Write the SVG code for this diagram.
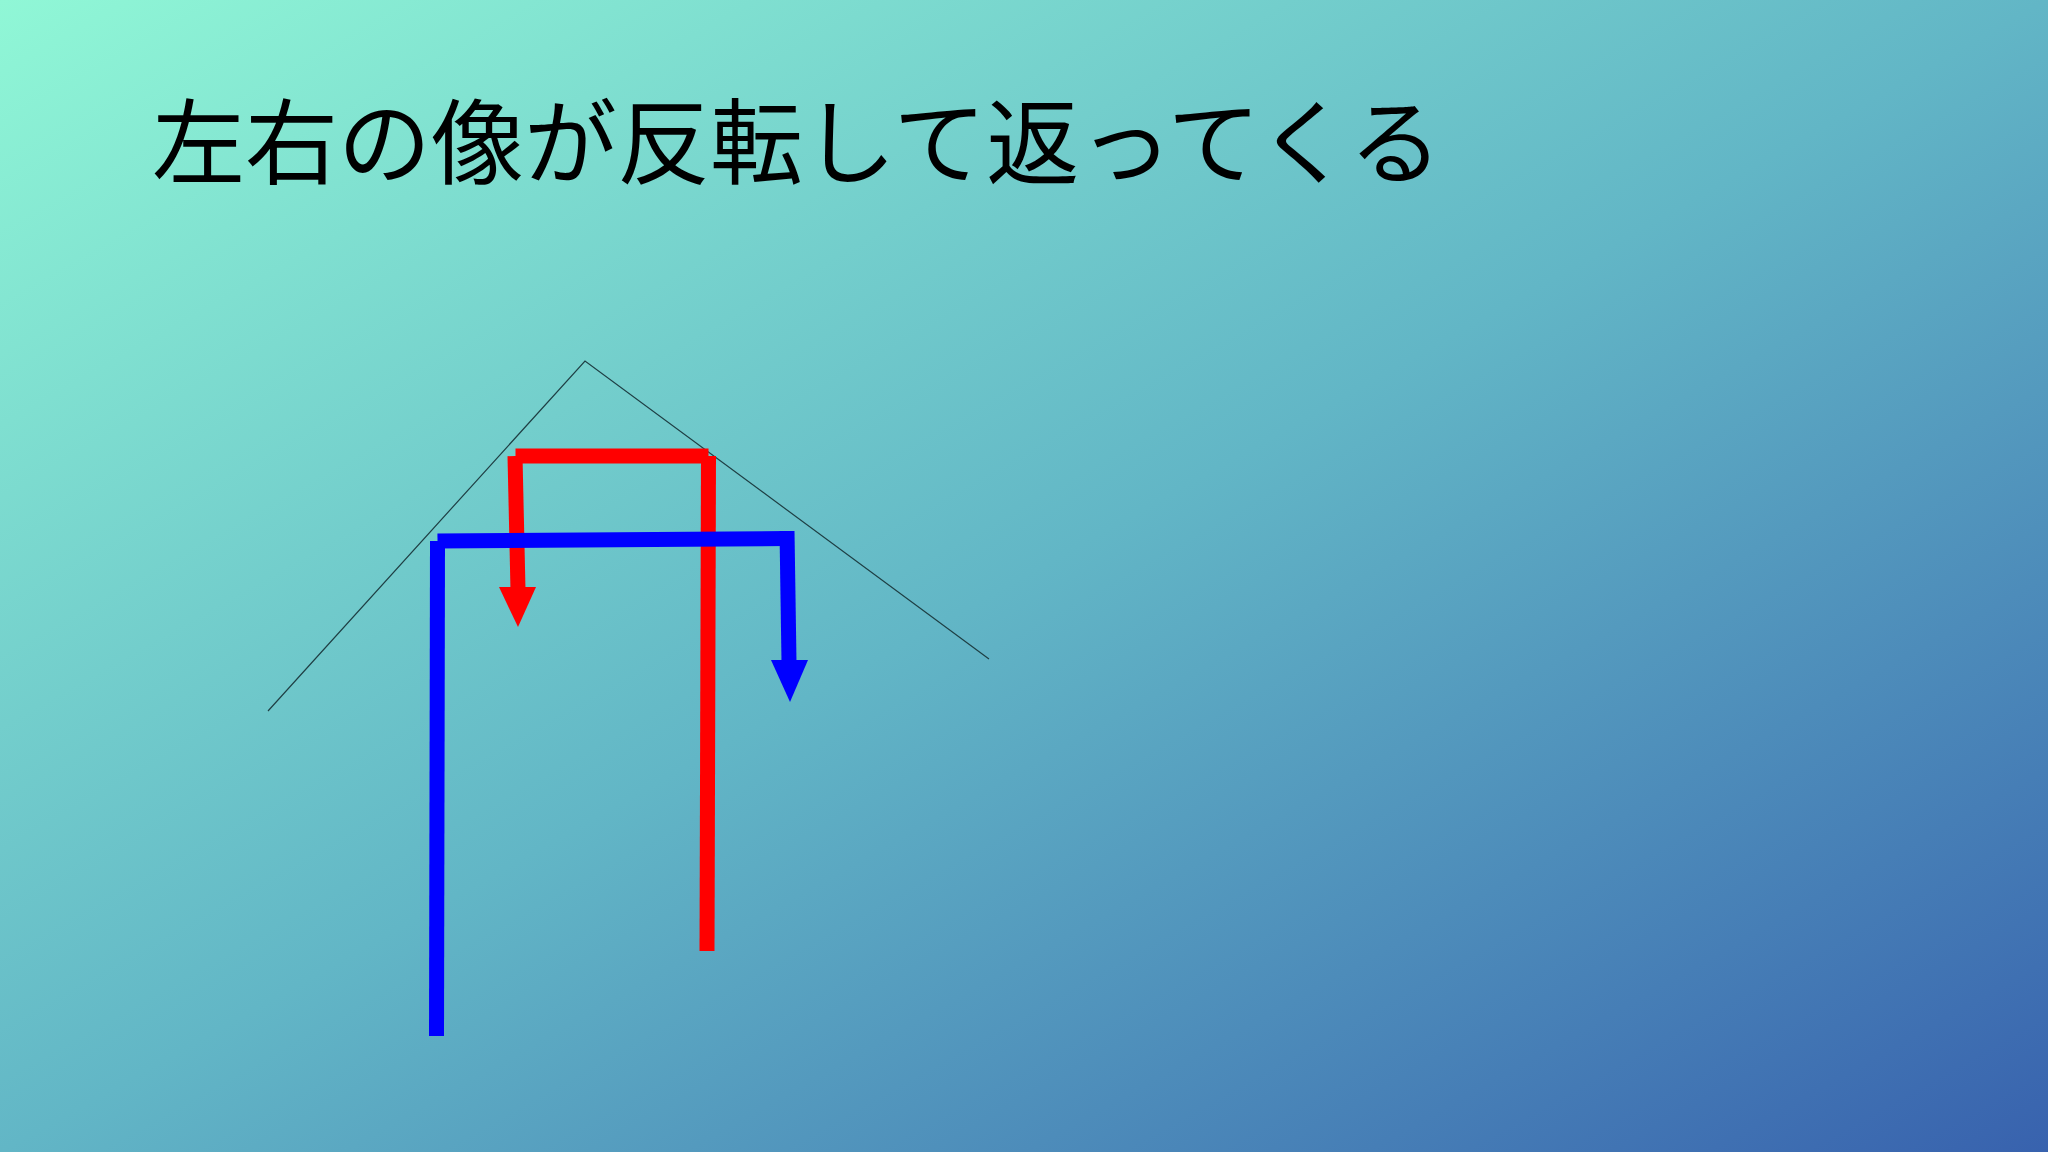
<svg xmlns="http://www.w3.org/2000/svg" width="2048" height="1152" viewBox="0 0 2048 1152">
  <defs>
    <linearGradient id="bg" x1="0" y1="0" x2="1" y2="1">
      <stop offset="0" stop-color="#90f7d6"/>
      <stop offset="0.5" stop-color="#62b6c6"/>
      <stop offset="1" stop-color="#3862ae"/>
    </linearGradient>
  </defs>
  <style>
    .title { font-family: "Noto Sans CJK JP", "Noto Sans", sans-serif; font-size: 93px; fill: #000; }
    .mirror { fill: none; stroke: #1f3f44; stroke-width: 1.2; }
    .red { stroke: #ff0000; stroke-width: 15; fill: none; stroke-linecap: butt; }
    .blue { stroke: #0000ff; stroke-width: 15; fill: none; stroke-linecap: butt; }
  </style>
  <rect width="2048" height="1152" fill="url(#bg)"/>
  <g id="title">
    <text class="title" x="152" y="177">左右の像が反転して返ってくる</text>
  </g>
  <g id="mirror">
    <polyline class="mirror" points="268,711 585,361 989,659"/>
  </g>
  <g id="connectors">
    <g id="red-ray">
      <line class="red" x1="707" y1="951" x2="708.5" y2="456"/>
      <line class="red" x1="515.5" y1="456" x2="708.5" y2="456"/>
      <line class="red" x1="515" y1="456" x2="518" y2="590"/>
      <polygon points="499,587 536,587 518,627" fill="#ff0000"/>
    </g>
    <g id="blue-ray">
      <line class="blue" x1="436.5" y1="1036" x2="437.5" y2="541"/>
      <line class="blue" x1="437.5" y1="541" x2="787" y2="538.5"/>
      <line class="blue" x1="787" y1="531" x2="789" y2="662"/>
      <polygon points="771,660 808,660 790,702" fill="#0000ff"/>
    </g>
  </g>
</svg>
